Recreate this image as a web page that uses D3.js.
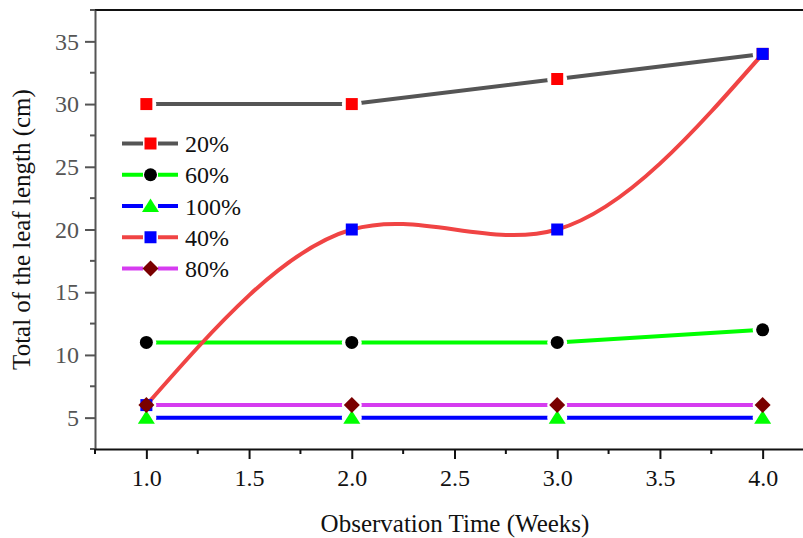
<!DOCTYPE html>
<html>
<head>
<meta charset="utf-8">
<script src="https://cdn.jsdelivr.net/npm/d3@7"></script>
<style>
  body { margin: 0; background: #fff; }
  svg { display: block; }
  svg text { font-family: 'Liberation Serif', 'Times New Roman', serif !important; }
</style>
</head>
<body>
<div id="chart"></div>
<script>
const weeks = [1.0, 2.0, 3.0, 4.0];
const seriesNames = ["20%", "60%", "100%", "40%", "80%"];
const vals20 = [30, 30, 32, 34];
const vals60 = [11, 11, 11, 12];
const vals100 = [5, 5, 5, 5];
const vals40 = [6, 20, 20, 34];
const vals80 = [6, 6, 6, 6];
const xTicks = [1.0, 1.5, 2.0, 2.5, 3.0, 3.5, 4.0];
const yTicks = [5, 10, 15, 20, 25, 30, 35];

const width = 803, height = 538;
const margin = { left: 95, top: 10, bottom: 449, right: 814 };
const serif = "'Liberation Serif', 'Times New Roman', serif";

const series = [
    { name: "20%", values: vals20, line: "#555555", fill: "#ff0000", shape: "square", curve: d3.curveLinear, gap: true },
    { name: "60%", values: vals60, line: "#00ff00", fill: "#000000", shape: "circle", curve: d3.curveLinear, gap: true },
    { name: "100%", values: vals100, line: "#0000ff", fill: "#00ff00", shape: "triangle", curve: d3.curveLinear, gap: true },
    { name: "40%", values: vals40, line: "#f04444", fill: "#0000ff", shape: "square", curve: d3.curveNatural, gap: false },
    { name: "80%", values: vals80, line: "#d63cf0", fill: "#7a0000", shape: "diamond", curve: d3.curveLinear, gap: true }
];

const svg = d3.select("#chart")
    .append("svg")
    .attr("width", width)
    .attr("height", height)
    .attr("font-family", serif);

const x = d3.scaleLinear().domain([0.75, 4.25]).range([margin.left, margin.right]);
const y = d3.scaleLinear().domain([2.5, 37.5]).range([margin.bottom, margin.top]);

// top frame
svg.append("line")
    .attr("x1", margin.left).attr("x2", width)
    .attr("y1", margin.top).attr("y2", margin.top)
    .attr("stroke", "#111").attr("stroke-width", 2);

// y axis
const yAxis = svg.append("g")
    .attr("transform", `translate(${margin.left},0)`)
    .call(d3.axisLeft(y).tickValues(yTicks).tickSize(10).tickPadding(6).tickSizeOuter(0))
    .attr("font-family", serif)
    .attr("font-size", 24);
yAxis.select(".domain").attr("stroke", "#555").attr("stroke-width", 2);
yAxis.selectAll(".tick line").attr("stroke", "#555").attr("stroke-width", 2);
yAxis.selectAll("text").attr("fill", "#555").style("font-size", "24px").style("font-family", serif);
svg.append("g")
    .attr("transform", `translate(${margin.left},0)`)
    .selectAll("line")
    .data(d3.range(2.5, 38, 5))
    .join("line")
    .attr("x1", -5).attr("x2", 0)
    .attr("y1", d => y(d)).attr("y2", d => y(d))
    .attr("stroke", "#555").attr("stroke-width", 2);

// x axis
const xAxis = svg.append("g")
    .attr("transform", `translate(0,${margin.bottom})`)
    .call(d3.axisBottom(x).tickValues(xTicks).tickSize(10).tickPadding(10).tickSizeOuter(0).tickFormat(d3.format(".1f")))
    .attr("font-family", serif)
    .attr("font-size", 24);
xAxis.select(".domain").attr("stroke", "#111").attr("stroke-width", 2);
xAxis.selectAll(".tick line").attr("stroke", "#111").attr("stroke-width", 2);
xAxis.selectAll("text").attr("fill", "#111").style("font-size", "24px").style("font-family", serif);
svg.append("g")
    .attr("transform", `translate(0,${margin.bottom})`)
    .selectAll("line")
    .data([0.75, 1.25, 1.75, 2.25, 2.75, 3.25, 3.75])
    .join("line")
    .attr("x1", d => x(d)).attr("x2", d => x(d))
    .attr("y1", 0).attr("y2", 5)
    .attr("stroke", "#111").attr("stroke-width", 2);

// axis titles
svg.append("text")
    .attr("x", 455)
    .attr("y", 532)
    .attr("text-anchor", "middle")
    .style("font-size", "25px")
    .attr("fill", "#111")
    .text("Observation Time (Weeks)");
svg.append("text")
    .attr("transform", `translate(30,${(margin.top + margin.bottom) / 2}) rotate(-90)`)
    .attr("text-anchor", "middle")
    .style("font-size", "25px")
    .attr("fill", "#111")
    .text("Total of the leaf length (cm)");

function markerPath(shape) {
    if (shape === "square") return d3.symbol(d3.symbolSquare, 144)();
    if (shape === "circle") return d3.symbol(d3.symbolCircle, 133)();
    if (shape === "triangle") return "M0,-7.5L8.5,6L-8.5,6Z";
    return "M0,-8L8,0L0,8L-8,0Z";
}

const defs = svg.append("defs");
const line = d3.line().x(d => x(d.w)).y(d => y(d.v));

series.forEach((s, i) => {
    const pts = weeks.map((w, j) => ({ w, v: s.values[j] }));
    const path = svg.append("path")
        .datum(pts)
        .attr("fill", "none")
        .attr("stroke", s.line)
        .attr("stroke-width", 4)
        .attr("d", line.curve(s.curve));
    if (s.gap) {
        const m = defs.append("mask").attr("id", "gap" + i).attr("maskUnits", "userSpaceOnUse")
            .attr("x", 0).attr("y", 0).attr("width", width).attr("height", height);
        m.append("rect").attr("width", width).attr("height", height).attr("fill", "#fff");
        m.selectAll("circle").data(pts).join("circle")
            .attr("cx", d => x(d.w)).attr("cy", d => y(d.v)).attr("r", 10).attr("fill", "#000");
        path.attr("mask", `url(#gap${i})`);
    }
});

series.forEach(s => {
    const pts = weeks.map((w, j) => ({ w, v: s.values[j] }));
    svg.append("g").selectAll("path")
        .data(pts)
        .join("path")
        .attr("transform", d => `translate(${x(d.w)},${y(d.v)})`)
        .attr("d", markerPath(s.shape))
        .attr("fill", s.fill);
});

// legend
const legend = svg.append("g").attr("transform", "translate(122,143.5)");
series.forEach((s, i) => {
    const g = legend.append("g").attr("transform", `translate(0,${i * 31.25})`);
    g.append("line").attr("x1", 0).attr("x2", 21).attr("stroke", s.line).attr("stroke-width", 4);
    g.append("line").attr("x1", 36).attr("x2", 56).attr("stroke", s.line).attr("stroke-width", 4);
    g.append("path").attr("transform", "translate(28.5,0)").attr("d", markerPath(s.shape)).attr("fill", s.fill);
    g.append("text").attr("x", 63).attr("y", 8.5)
        .style("font-size", "24px").style("font-family", serif)
        .attr("fill", "#111").text(seriesNames[i]);
});
</script>
</body>
</html>
